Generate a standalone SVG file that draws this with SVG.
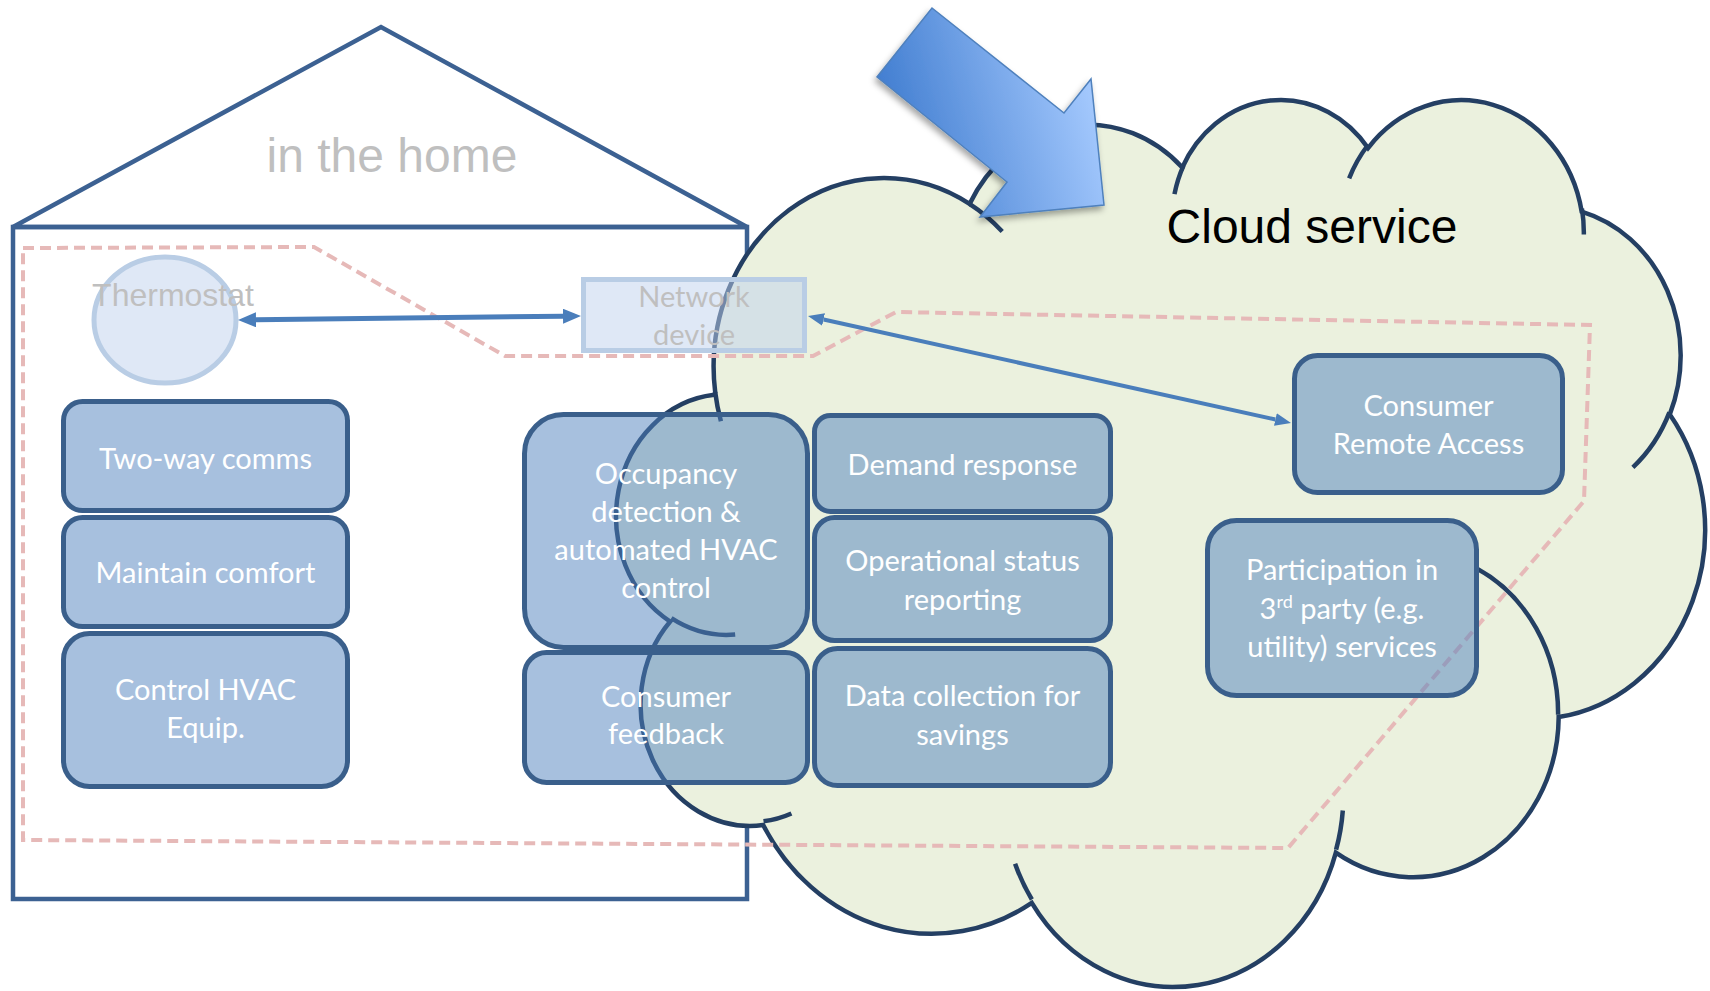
<svg xmlns="http://www.w3.org/2000/svg" width="1710" height="991" viewBox="0 0 1710 991">
<style>
.house{fill:none;stroke:#3c6192;stroke-width:4.5;stroke-linejoin:miter}
.cloud{fill:#ebf1de;stroke:#243f63;stroke-width:4.5}
.tick{fill:none;stroke:#243f63;stroke-width:4.5}
.pink{fill:none;stroke:#e6b9b8;stroke-width:4;stroke-dasharray:11 6}
.box{fill:#4f81bd;fill-opacity:0.5;stroke:#3a5f8b;stroke-width:5}
.dev{fill:#bfd2ee;fill-opacity:0.5;stroke:#b9cde5;stroke-width:5}
.bt{font-family:Lato,"Open Sans",sans-serif;font-size:29px;fill:#ffffff;text-anchor:middle}
.gt{font-family:"Liberation Sans",Arial,sans-serif;fill:#bfbfbf;text-anchor:middle}
.lt{font-family:Lato,"Open Sans",sans-serif;font-size:29px;fill:#bfbfbf;text-anchor:middle}
.conn{stroke:#4a7ebb;fill:none}
</style>
<defs>
<marker id="ah" viewBox="0 0 18 15" refX="0" refY="7.5" markerWidth="18" markerHeight="15" markerUnits="userSpaceOnUse" orient="auto-start-reverse">
<path d="M0,0 L18,7.5 L0,15 z" fill="#4a7ebb"/>
</marker>
<marker id="ah2" viewBox="0 0 16 13" refX="0" refY="6.5" markerWidth="16" markerHeight="13" markerUnits="userSpaceOnUse" orient="auto-start-reverse">
<path d="M0,0 L16,6.5 L0,13 z" fill="#4a7ebb"/>
</marker>
<linearGradient id="bg" gradientUnits="userSpaceOnUse" x1="880" y1="150" x2="1090" y2="90">
<stop offset="0" stop-color="#3a78cd"/>
<stop offset="1" stop-color="#a3c8fd"/>
</linearGradient>
<filter id="sh" x="-20%" y="-20%" width="140%" height="140%">
<feDropShadow dx="-2" dy="4" stdDeviation="3" flood-color="#000" flood-opacity="0.35"/>
</filter>
</defs>

<g id="house">
<polygon class="house" points="13,227 381,27 747,227"/>
<rect class="house" x="13" y="227" width="734" height="672"/>
<text x="392" y="172" class="gt" font-size="48" fill="#c0c0c0">in the home</text>
</g>

<g id="cloud" transform="translate(617,97.2) scale(0.025178,0.020525)">
<path class="cloud" vector-effect="non-scaling-stroke" d="M3900 14370 A6753 9190 0 0 1 14003 5201 A5333 7267 0 0 1 22452 3427 A4365 5945 0 0 1 29829 2477 A4857 6595 0 0 1 38314 5572 A5333 7273 0 0 1 41815 15456 A6775 9220 0 0 1 37401 30199 A5785 7867 0 0 1 28551 36808 A6752 9215 0 0 1 16474 39257 A7720 10543 0 0 1 5806 35463 A4360 5918 0 0 1 2112 25545 A4345 5945 0 0 1 3862 14502 Z"/>
<path class="tick" vector-effect="non-scaling-stroke" d="M4693 26177 A4345 5945 0 0 1 2159 25380 M6928 34899 A4360 5918 0 0 1 5819 35281 M16478 39090 A6752 9215 0 0 1 15811 37350 M28827 34751 A6752 9215 0 0 1 28561 36660 M34129 22954 A5785 7867 0 0 1 37378 30088 M41798 15354 A5333 7273 0 0 1 40348 18032 M38324 5426 A4857 6595 0 0 1 38400 6689 M29078 3952 A4857 6595 0 0 1 29819 2341 M22141 4720 A4365 5945 0 0 1 22500 3330 M14000 5192 A6753 9190 0 0 1 15300 6539 M4127 15789 A6753 9190 0 0 1 3900 14370"/>
</g>

<g id="boundary">
<path class="pink" d="M23,248 L314,247 L505,356 L813,356 L896,312 L1590,325 L1584,501 L1288,848 L23,840 Z"/>
</g>

<g id="thermostat">
<ellipse class="dev" cx="165" cy="320" rx="71" ry="63"/>
<text x="173" y="306" class="gt" font-size="32">Thermostat</text>
</g>

<g id="network-device">
<rect class="dev" x="583.5" y="279.5" width="221" height="71"/>
<text class="lt"><tspan x="694" y="307">Network</tspan><tspan x="694" y="345">device</tspan></text>
</g>

<g id="two-way-comms">
<rect class="box" x="63.5" y="401.5" width="284" height="109" rx="19"/>
<text class="bt" x="205.5" y="469">Two-way comms</text>
</g>
<g id="maintain-comfort">
<rect class="box" x="63.5" y="517.5" width="284" height="109" rx="19"/>
<text class="bt" x="205.5" y="583">Maintain comfort</text>
</g>
<g id="control-hvac">
<rect class="box" x="63.5" y="633.5" width="284" height="153" rx="26"/>
<text class="bt"><tspan x="205.5" y="700">Control HVAC</tspan><tspan x="205.5" y="738">Equip.</tspan></text>
</g>

<g id="occupancy">
<rect class="box" x="524.5" y="414.5" width="283" height="233" rx="39"/>
<text class="bt"><tspan x="666" y="484">Occupancy</tspan><tspan x="666" y="522">detection &amp;</tspan><tspan x="666" y="560">automated HVAC</tspan><tspan x="666" y="598">control</tspan></text>
</g>
<g id="consumer-feedback">
<rect class="box" x="524.5" y="652.5" width="283" height="130" rx="22"/>
<text class="bt"><tspan x="666" y="707">Consumer</tspan><tspan x="666" y="744">feedback</tspan></text>
</g>

<g id="demand-response">
<rect class="box" x="814.5" y="415.5" width="296" height="96" rx="16"/>
<text class="bt" x="962.5" y="475">Demand response</text>
</g>
<g id="operational-status">
<rect class="box" x="814.5" y="517.5" width="296" height="123" rx="20"/>
<text class="bt"><tspan x="962.5" y="571">Operational status</tspan><tspan x="962.5" y="610">reporting</tspan></text>
</g>
<g id="data-collection">
<rect class="box" x="814.5" y="648.5" width="296" height="137" rx="23"/>
<text class="bt"><tspan x="962.5" y="706">Data collection for</tspan><tspan x="962.5" y="745">savings</tspan></text>
</g>

<g id="consumer-remote-access">
<rect class="box" x="1294.5" y="355.5" width="268" height="137" rx="23"/>
<text class="bt"><tspan x="1428.5" y="416">Consumer</tspan><tspan x="1428.5" y="454">Remote Access</tspan></text>
</g>
<g id="participation">
<rect class="box" x="1207.5" y="520.5" width="269" height="175" rx="29"/>
<text class="bt"><tspan x="1342" y="580">Participation in</tspan><tspan x="1342" y="619">3<tspan font-size="18" dy="-11">rd</tspan><tspan dy="11"> party (e.g.</tspan></tspan><tspan x="1342" y="657">utility) services</tspan></text>
</g>

<g id="connectors">
<line class="conn" stroke-width="5" x1="256" y1="319.8" x2="563" y2="316.2" marker-start="url(#ah)" marker-end="url(#ah)"/>
<line class="conn" stroke-width="4" x1="823.6" y1="319.5" x2="1275.4" y2="419.5" marker-start="url(#ah2)" marker-end="url(#ah2)"/>
</g>

<g id="big-arrow">
<polygon points="932,8 1064,113 1091,79 1104,205 980,217 1007,182 877,77" fill="url(#bg)" stroke="#4f81bd" stroke-width="1.5" stroke-linejoin="miter" filter="url(#sh)"/>
</g>

<g id="cloud-label">
<text x="1312" y="243" font-family="Liberation Sans, Arial, sans-serif" font-size="48" fill="#000000" text-anchor="middle">Cloud service</text>
</g>
</svg>
